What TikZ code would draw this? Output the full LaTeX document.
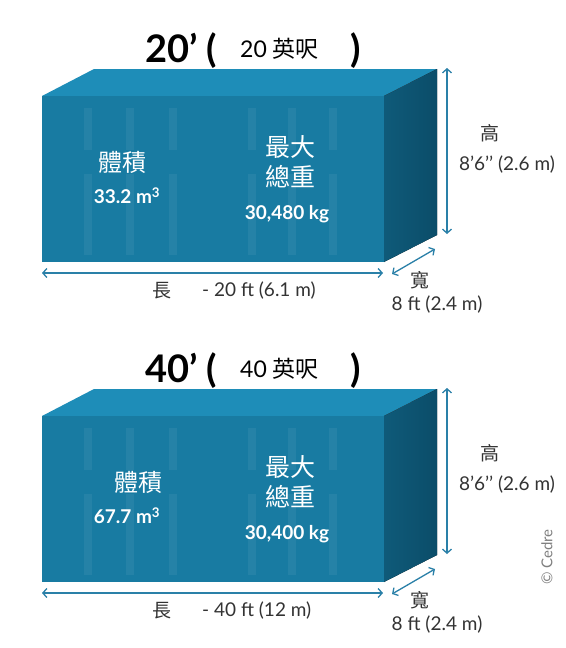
\documentclass[tikz,border=0pt]{standalone}
\usepackage{fontspec}
\setmainfont{Lato}
\newfontfamily\cjk{Noto Sans CJK TC}
\usetikzlibrary{arrows.meta}
\usetikzlibrary{positioning}
\definecolor{boxtop}{HTML}{1E8DB8}
\definecolor{boxfront}{HTML}{187BA2}
\definecolor{boxside}{HTML}{0F5A79}
\definecolor{boxsidedark}{HTML}{0B4D69}
\definecolor{dimline}{HTML}{2A80A8}
\definecolor{labelgrey}{HTML}{333333}
\tikzset{
  top face/.style={fill=boxtop},
  front face/.style={fill=boxfront},
  side face/.style={left color=boxside,right color=boxsidedark},
  rib/.style={fill=white,opacity=0.06},
  dim arrow/.style={draw=dimline,line width=1.3pt,{Straight Barb[length=4pt,width=9pt]}-{Straight Barb[length=4pt,width=9pt]}},
  dim text/.style={text=labelgrey,inner sep=0pt,font=\fontsize{19}{22}\selectfont},
  dim cjk/.style={text=labelgrey,inner sep=0pt,font=\fontsize{19}{22}\selectfont\cjk},
  box text/.style={text=white,inner sep=0pt},
  big title/.style={inner sep=0pt,font=\fontsize{38}{44}\selectfont\bfseries},
  small title/.style={inner sep=0pt,font=\fontsize{23}{26}\selectfont}
}
% one container with its labels
% #1 prefix, #2 shift down, #3 feet, #4 metres, #5 volume, #6 weight, #7 x of volume label
\newcommand{\container}[7]{%
\begin{scope}[yshift=-#2pt]
  % corners
  \coordinate (#1ftl) at (42,96);
  \coordinate (#1ftr) at (384,96);
  \coordinate (#1fbr) at (384,262);
  \coordinate (#1fbl) at (42,262);
  \coordinate (#1btl) at (94,69);
  \coordinate (#1btr) at (437,69);
  \coordinate (#1bbr) at (437,235);
  \fill[top face] (#1ftl) -- (#1btl) -- (#1btr) -- (#1ftr) -- cycle;
  \fill[side face] (#1ftr) -- (#1btr) -- (#1bbr) -- (#1fbr) -- cycle;
  \fill[front face] (#1ftl) rectangle (#1fbr);
  % ribs on the doors
  \foreach \x in {88,130,173,252,292,333}{
    \fill[rib] (\x-4,108) rectangle (\x+4,150);
    \fill[rib] (\x-4,174) rectangle (\x+4,255);
  }
  % title
  \node[big title,anchor=base west] (#1title) at (145,62) {#3’ (};
  \node[small title,anchor=base west] (#1feet) at (240,57) {#3 {\cjk 英呎}};
  \node[big title,anchor=base west] (#1close) at (350,62) {)};
  % labels on the box
  \node[box text,font=\fontsize{24}{28}\selectfont\cjk] (#1vol) at (#7,162) {體積};
  \node[box text,font=\fontsize{19}{22}\selectfont\bfseries] (#1volval) at (127,196) {#5 m\textsuperscript{3}};
  \node[box text,font=\fontsize{25}{28}\selectfont\cjk] (#1max) at (290,147) {最大};
  \node[box text,font=\fontsize{25}{28}\selectfont\cjk] (#1gross) [below=6pt of #1max] {總重};
  \node[box text,font=\fontsize{19}{22}\selectfont\bfseries] (#1wt) at (287,214) {#6 kg};
  % dimensions
  \coordinate (#1hup) at (447,68);
  \coordinate (#1hdn) at (447,234);
  \coordinate (#1lleft) at (42,273);
  \coordinate (#1lright) at (383,273);
  \coordinate (#1wnear) at (392,274);
  \coordinate (#1wfar) at (435,249);
  \path[dim arrow] (#1hup) -- (#1hdn);
  \path[dim arrow] (#1lleft) -- (#1lright);
  \path[dim arrow] (#1wnear) -- (#1wfar);
  \node[dim cjk] (#1high) at (490,133) {高};
  \node[dim text] (#1highval) at (507,165) {8’6’’ (2.6 m)};
  \node[dim cjk] (#1wide) at (420,280) {寬};
  \node[dim text] (#1wideval) at (437,305) {8 ft (2.4 m)};
  \node[dim cjk] (#1long) at (162,291) {長};
  \node[dim text,anchor=west] (#1longval) at (202,291) {- #3 ft (#4)};
\end{scope}}

\begin{document}
\begin{tikzpicture}[x=1pt,y=-1pt]
  \useasboundingbox[fill=white] (0,0) rectangle (565,648);
  \container{a}{0}{20}{6.1 m}{33.2}{30,480}{122}
  \container{b}{320}{40}{12 m}{67.7}{30,400}{138}
  \node[rotate=90,text=gray,inner sep=0pt,font=\fontsize{15}{18}\selectfont] (cedre) at (547,557) {© Cedre};
\end{tikzpicture}
\end{document}
